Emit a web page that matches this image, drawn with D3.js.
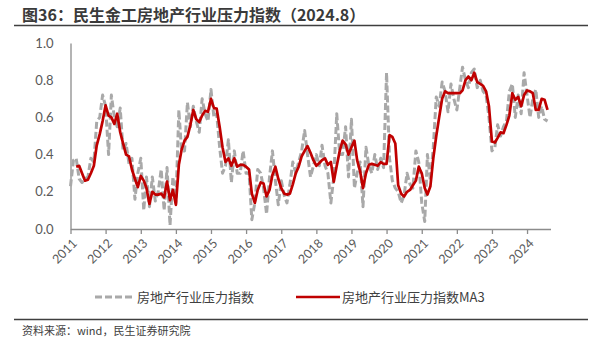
<!DOCTYPE html>
<html>
<head>
<meta charset="utf-8">
<script src="https://cdn.jsdelivr.net/npm/d3@7"></script>
<style>
  html, body { margin: 0; padding: 0; background: #fff; }
  svg { display: block; }
</style>
</head>
<body>
<svg id="chart" width="600" height="345"></svg>
<script>
// ---- data ----
const titleText = "图36：民生金工房地产行业压力指数（2024.8）";
const sourceText = "资料来源：wind，民生证券研究院";
const seriesNames = ["房地产行业压力指数", "房地产行业压力指数MA3"];
const startMonth = "2011-01";
const yearTicks = [2011, 2012, 2013, 2014, 2015, 2016, 2017, 2018, 2019, 2020, 2021, 2022, 2023, 2024];
const yTicks = [0.0, 0.2, 0.4, 0.6, 0.8, 1.0];

// monthly index, Jan 2011 - Aug 2024
const pressureIndex = [
  0.23, 0.37, 0.38, 0.27, 0.25, 0.27, 0.28, 0.38, 0.36, 0.58, 0.60, 0.72,
  0.66, 0.40, 0.72, 0.60, 0.55, 0.65, 0.42, 0.46, 0.35, 0.38, 0.16, 0.30,
  0.38, 0.10, 0.28, 0.12, 0.28, 0.15, 0.20, 0.32, 0.10, 0.33, 0.02, 0.28,
  0.14, 0.64, 0.42, 0.42, 0.68, 0.55, 0.66, 0.58, 0.52, 0.70, 0.62, 0.58,
  0.75, 0.60, 0.62, 0.44, 0.30, 0.34, 0.48, 0.25, 0.42, 0.30, 0.30, 0.42,
  0.30, 0.30, 0.05, 0.14, 0.32, 0.30, 0.22, 0.08, 0.28, 0.42, 0.26, 0.13,
  0.26, 0.18, 0.14, 0.24, 0.36, 0.30, 0.36, 0.42, 0.53, 0.40, 0.28, 0.34,
  0.40, 0.34, 0.45, 0.34, 0.30, 0.14, 0.28, 0.62, 0.40, 0.40, 0.55, 0.28,
  0.59, 0.22, 0.30, 0.36, 0.12, 0.44, 0.34, 0.30, 0.40, 0.32, 0.38, 0.33,
  0.84, 0.38, 0.26, 0.22, 0.20, 0.14, 0.18, 0.30, 0.24, 0.22, 0.42, 0.36,
  0.14, 0.04, 0.40, 0.26, 0.44, 0.71, 0.66, 0.79, 0.74, 0.63, 0.78, 0.70,
  0.64, 0.76, 0.87, 0.80, 0.76, 0.84, 0.86, 0.76, 0.80, 0.74, 0.72, 0.60,
  0.42, 0.44, 0.56, 0.50, 0.55, 0.58, 0.74, 0.78, 0.60, 0.72, 0.62, 0.84,
  0.72, 0.60, 0.70, 0.75, 0.60, 0.66, 0.59, 0.58
];

// 3-month moving average
const pressureMA3 = [
  null, null, 0.335, 0.34, 0.30, 0.26, 0.265, 0.30, 0.34, 0.45, 0.51, 0.58,
  0.665, 0.61, 0.60, 0.565, 0.62, 0.52, 0.46, 0.40, 0.39, 0.32, 0.27, 0.225,
  0.285, 0.26, 0.22, 0.135, 0.20, 0.185, 0.185, 0.19, 0.17, 0.255, 0.155, 0.21,
  0.13, 0.345, 0.425, 0.475, 0.495, 0.56, 0.64, 0.59, 0.575, 0.61, 0.635, 0.63,
  0.70, 0.65, 0.648, 0.55, 0.44, 0.36, 0.38, 0.34, 0.38, 0.335, 0.345, 0.345,
  0.335, 0.32, 0.19, 0.14, 0.21, 0.25, 0.245, 0.175, 0.21, 0.29, 0.335, 0.27,
  0.22, 0.19, 0.185, 0.19, 0.24, 0.30, 0.335, 0.39, 0.42, 0.446, 0.41, 0.37,
  0.34, 0.355, 0.37, 0.38, 0.345, 0.36, 0.254, 0.34, 0.42, 0.475, 0.455, 0.40,
  0.44, 0.475, 0.37, 0.31, 0.22, 0.30, 0.345, 0.35, 0.345, 0.34, 0.36, 0.35,
  0.35, 0.505, 0.495, 0.46, 0.235, 0.19, 0.175, 0.20, 0.21, 0.235, 0.26, 0.335,
  0.30, 0.22, 0.185, 0.23, 0.38, 0.50, 0.60, 0.70, 0.74, 0.73, 0.73, 0.73,
  0.73, 0.73, 0.745, 0.80, 0.82, 0.80, 0.84, 0.79, 0.78, 0.77, 0.74, 0.66,
  0.47, 0.465, 0.49, 0.52, 0.515, 0.56, 0.61, 0.73, 0.695, 0.71, 0.66, 0.72,
  0.745, 0.74, 0.73, 0.64, 0.64, 0.70, 0.695, 0.64
];

// ---- drawing ----
const svg = d3.select("#chart");
const cjk = "'Noto Sans CJK SC', 'Noto Sans', sans-serif";
const num = "Lato, 'Noto Sans', sans-serif";

const parseMonth = d3.timeParse("%Y-%m");
const t0 = parseMonth(startMonth);
const months = pressureIndex.map((_, i) => d3.timeMonth.offset(t0, i));

const x = d3.scaleTime()
  .domain([t0, d3.timeMonth.offset(t0, pressureIndex.length)])
  .range([70.5, 550.5]);
const y = d3.scaleLinear().domain([0, 1]).range([229, 43]);

// title
svg.append("text")
  .attr("x", 22).attr("y", 21)
  .attr("font-family", cjk).attr("font-weight", "bold")
  .attr("font-size", 16).attr("fill", "#3a3a3a")
  .text(titleText);
svg.append("line")
  .attr("x1", 14).attr("x2", 588).attr("y1", 25.5).attr("y2", 25.5)
  .attr("stroke", "#3f3f3f").attr("stroke-width", 1.3);

// y axis
const yAxis = svg.append("g")
  .attr("transform", `translate(${x.range()[0]},0)`)
  .call(d3.axisLeft(y).tickValues(yTicks).tickFormat(d3.format(".1f")).tickSize(0).tickPadding(17));
yAxis.select(".domain").attr("stroke", "#8c8c8c").attr("stroke-width", 1.3);
yAxis.selectAll("text").attr("font-family", num).attr("font-size", 13).attr("fill", "#595959");

// x axis
const xAxis = svg.append("g")
  .attr("transform", `translate(0,${y(0)})`)
  .call(d3.axisBottom(x)
    .tickValues(yearTicks.map(yr => new Date(yr, 0, 1)))
    .tickFormat(d3.timeFormat("%Y"))
    .tickSizeInner(5).tickSizeOuter(0));
xAxis.select(".domain").attr("stroke", "#8c8c8c").attr("stroke-width", 1.3);
xAxis.selectAll(".tick line").attr("stroke", "#8c8c8c").attr("stroke-width", 1.3);
xAxis.selectAll("text")
  .attr("font-family", num).attr("font-size", 12.5).attr("fill", "#595959")
  .attr("text-anchor", "end")
  .attr("dy", null).attr("y", 0)
  .attr("transform", "translate(7,15) rotate(-45)");

// lines
const lineGen = d3.line()
  .defined(d => d.v != null)
  .x(d => x(d.t)).y(d => y(d.v));

const grayData = months.map((t, i) => ({ t, v: pressureIndex[i] }));
const redData = months.map((t, i) => ({ t, v: pressureMA3[i] }));

svg.append("path")
  .datum(grayData)
  .attr("d", lineGen)
  .attr("fill", "none")
  .attr("stroke", "#a9a9a9")
  .attr("stroke-width", 3)
  .attr("stroke-dasharray", "7,3")
  .attr("stroke-linejoin", "round");

svg.append("path")
  .datum(redData)
  .attr("d", lineGen)
  .attr("fill", "none")
  .attr("stroke", "#c00000")
  .attr("stroke-width", 2.7)
  .attr("stroke-linejoin", "round");

// legend
const legY = 297;
const leg = svg.append("g");
leg.append("line").attr("x1", 95).attr("x2", 135).attr("y1", legY).attr("y2", legY)
  .attr("stroke", "#a9a9a9").attr("stroke-width", 3).attr("stroke-dasharray", "7,3");
leg.append("text").attr("x", 137).attr("y", legY).attr("dy", "0.36em")
  .attr("font-family", cjk).attr("font-size", 13).attr("fill", "#404040")
  .text(seriesNames[0]);
leg.append("line").attr("x1", 296).attr("x2", 340).attr("y1", legY).attr("y2", legY)
  .attr("stroke", "#c00000").attr("stroke-width", 2.7);
leg.append("text").attr("x", 342).attr("y", legY).attr("dy", "0.36em")
  .attr("font-family", cjk).attr("font-size", 13).attr("fill", "#404040")
  .text(seriesNames[1]);

// bottom rule and source
svg.append("line")
  .attr("x1", 14).attr("x2", 588).attr("y1", 319.5).attr("y2", 319.5)
  .attr("stroke", "#3f3f3f").attr("stroke-width", 1.3);
svg.append("text")
  .attr("x", 22).attr("y", 335)
  .attr("font-family", cjk).attr("font-size", 11).attr("fill", "#404040")
  .text(sourceText);
</script>
</body>
</html>
